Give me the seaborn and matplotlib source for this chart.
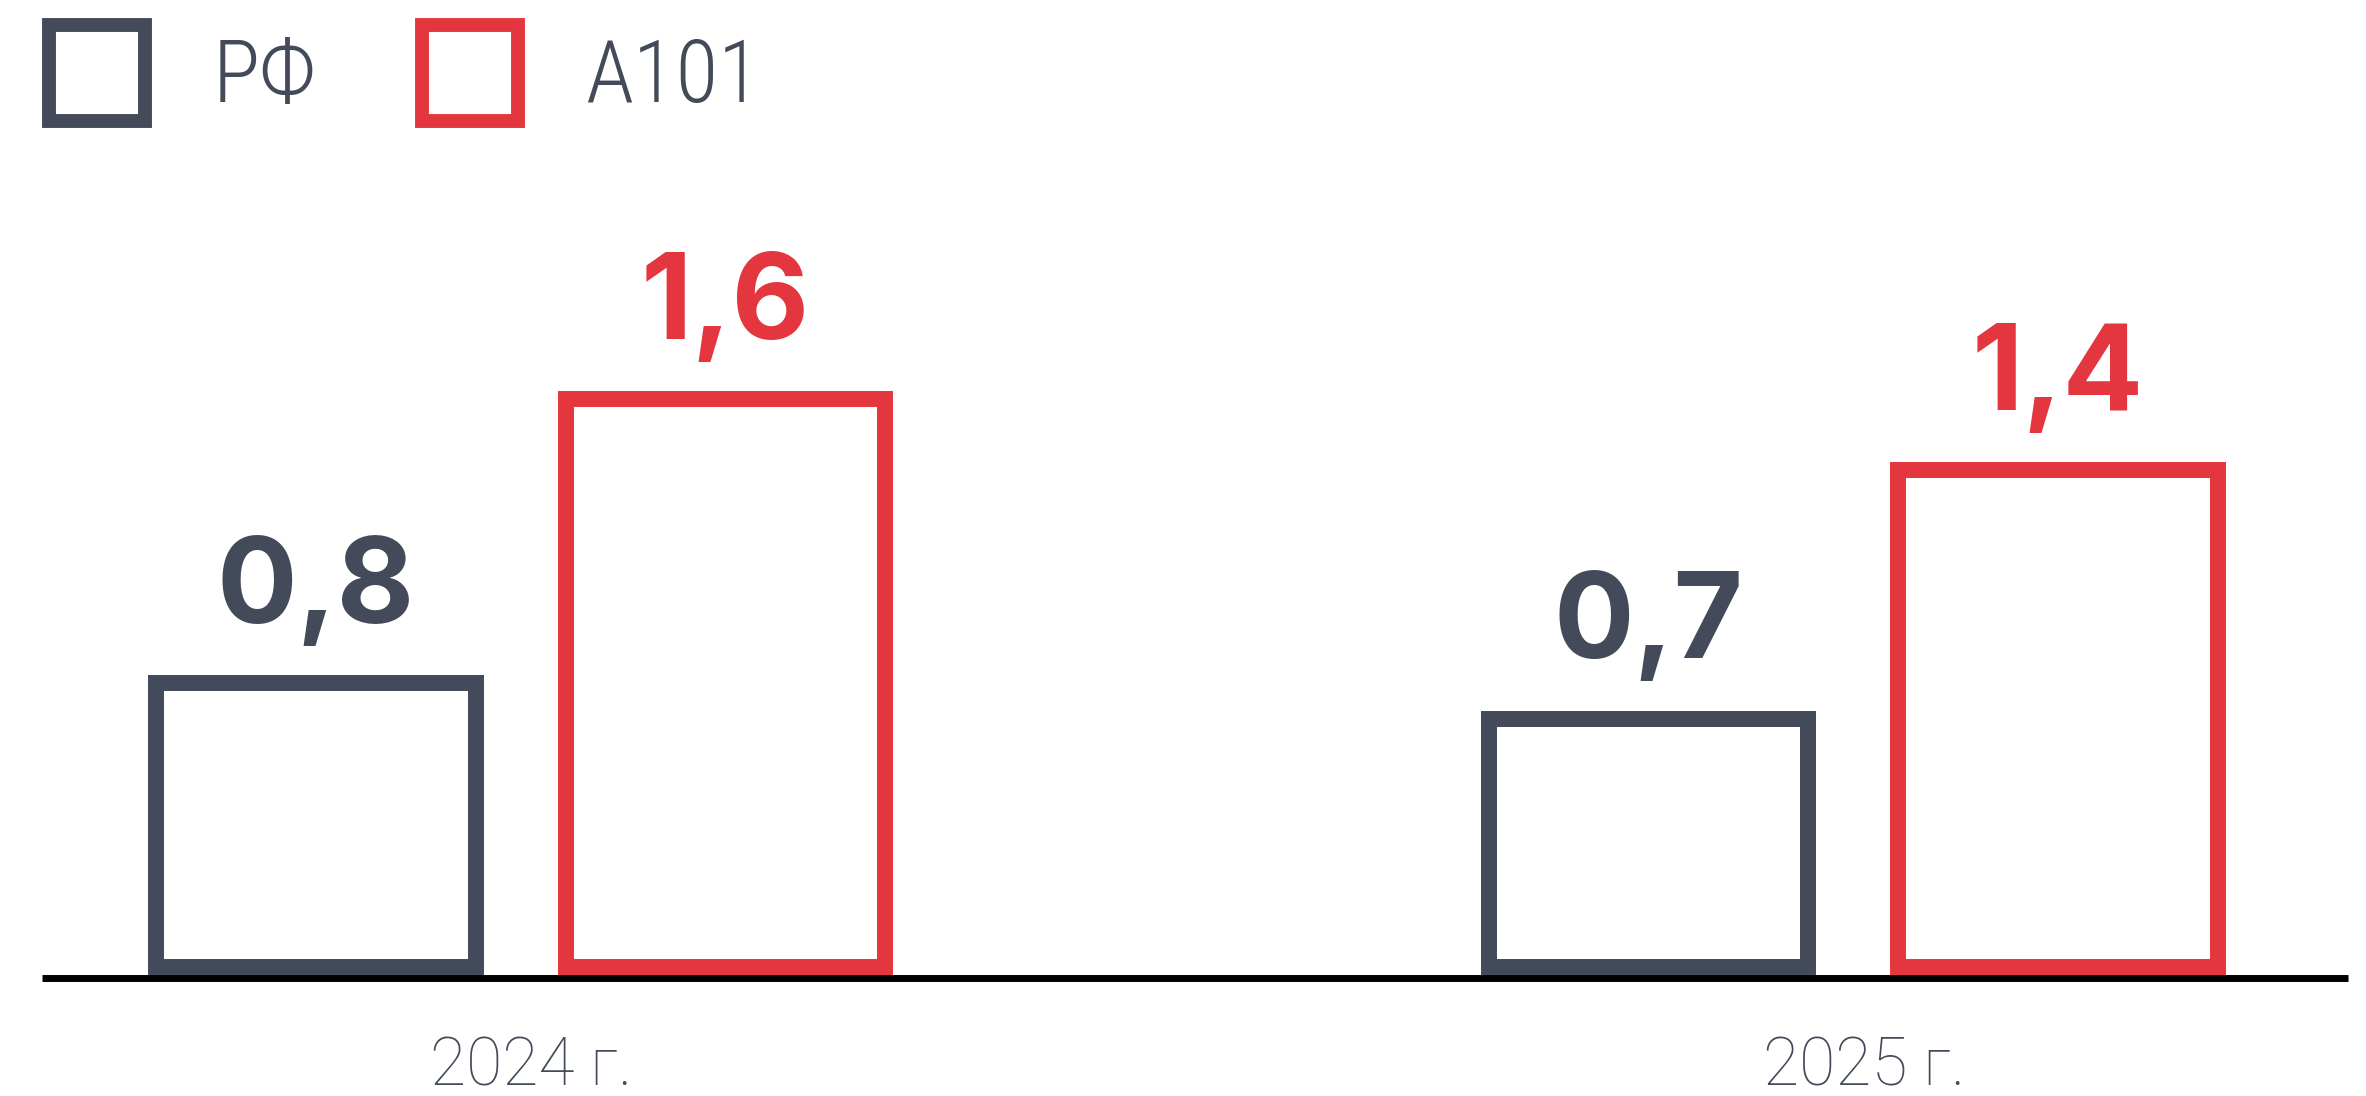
import pandas as pd
import numpy as np
import matplotlib.pyplot as plt
import seaborn as sns

years = ['2024 г.', '2025 г.']
series = ['РФ', 'А101']
rf_values = [0.8, 0.7]
a101_values = [1.6, 1.4]
rf_labels = ['0,8', '0,7']
a101_labels = ['1,6', '1,4']

gray = '#434A59'
red = '#E3363E'

data = pd.DataFrame({
    'year': years + years,
    'series': [series[0]] * 2 + [series[1]] * 2,
    'value': rf_values + a101_values,
})

fig = plt.figure(figsize=(23.66, 10.96), dpi=100)
ax = fig.add_axes([0, 0, 1, 1])

sns.barplot(data=data, x='year', y='value', hue='series', palette=[gray, red],
            fill=False, linewidth=11.5, width=0.614, gap=0.22,
            errorbar=None, ax=ax)

ax.set_xlim(-0.3905, 1.3845)
ax.set_ylim(-0.3634, 2.724)
ax.axis('off')

# baseline
ax.hlines(-0.032, -0.359, 1.371, color='black', lw=5, zorder=5)

# value labels
for cont, labs, col in zip(ax.containers, [rf_labels, a101_labels], [gray, red]):
    ax.bar_label(cont, labels=labs, padding=26, fontsize=86, fontweight='bold',
                 family=['Inter', 'DejaVu Sans'], color=col)

# year labels
for i, y in enumerate(years):
    ax.text(i + 0.008, -0.335, y, ha='center', va='baseline', fontsize=47.5,
            family=['Roboto', 'DejaVu Sans'], fontweight='light', color=gray)

handles, labels = ax.get_legend_handles_labels()
leg = ax.legend(handles, labels, loc='upper left', bbox_to_anchor=(0.0207, 0.9772),
                ncol=2, frameon=False, handlelength=1.097,
                handleheight=1.311, handletextpad=0.77, columnspacing=1.21,
                borderpad=0, borderaxespad=0,
                prop={'family': ['Roboto Condensed', 'DejaVu Sans'], 'weight': 'light', 'size': 63})
for t in leg.get_texts():
    t.set_color(gray)
for h in leg.legend_handles:
    h.set_linewidth(10)

plt.savefig('out.png', dpi=100)
